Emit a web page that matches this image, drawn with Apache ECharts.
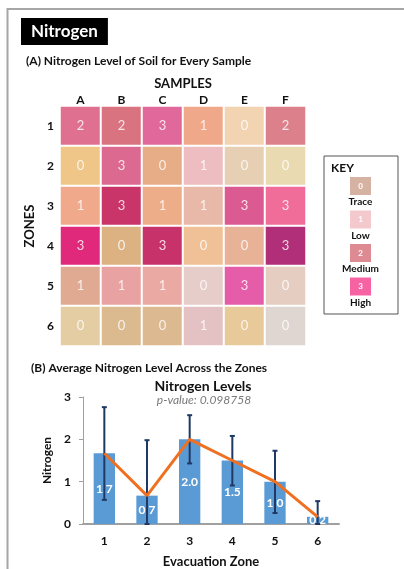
<!DOCTYPE html>
<html>
<head>
<meta charset="utf-8">
<style>
  html, body { margin: 0; padding: 0; background: #fff; }
  #chart { width: 404px; height: 569px; }
</style>
<script src="https://cdn.jsdelivr.net/npm/echarts@6/dist/echarts.min.js"></script>
</head>
<body>
<div id="chart"></div>
<script>
// Soil samples (columns) and evacuation zones (rows)
const samples = ['A', 'B', 'C', 'D', 'E', 'F'];
const zones = ['1', '2', '3', '4', '5', '6'];

// Nitrogen level per zone (row) and sample (column): 0 trace .. 3 high
const levels = [
  [2, 2, 3, 1, 0, 2],
  [0, 3, 0, 1, 0, 0],
  [1, 3, 1, 1, 3, 3],
  [3, 0, 3, 0, 0, 3],
  [1, 1, 1, 0, 3, 0],
  [0, 0, 0, 1, 0, 0]
];

// Average nitrogen per zone, with error bar ends
const zoneLabels = ['1', '2', '3', '4', '5', '6'];
const zoneAverages = [1.67, 0.67, 2.0, 1.5, 1.0, 0.17];
const errorUpper = [2.76, 1.98, 2.57, 2.08, 1.73, 0.54];
const errorLower = [0.57, 0.0, 1.43, 0.91, 0.26, 0.0];

const yTicks = { min: 0, max: 3, interval: 1 };

// Key entries
const keyLevels = ['0', '1', '2', '3'];
const keyNames = ['Trace', 'Low', 'Medium', 'High'];

// Cell fill colours (style)
const cellColors = [
  ['#e07090', '#d8737f', '#e0689a', '#f0a88a', '#f2d3b2', '#dc818b'],
  ['#efc687', '#dc6a90', '#e6ad86', '#edbdc1', '#e6cfb2', '#eadab2'],
  ['#f0a98a', '#c93469', '#eead89', '#e8b9a9', '#dc5a92', '#f06c99'],
  ['#e0297b', '#dcb282', '#c8326b', '#f0c196', '#e8b296', '#b02f78'],
  ['#e0aa92', '#e8a2a2', '#eaa9a2', '#e6cdc9', '#e55ca9', '#e5cdc1'],
  ['#e4cda2', '#dcba90', '#dcb990', '#e4c1c2', '#e8c99a', '#dfd5d1']
];
const keyColors = ['#d6b2a2', '#f4c9cd', '#de8a92', '#f662a2'];

const FONT = 'Lato';
const DARK = '#111';

const heatData = [];
levels.forEach((row, r) => {
  row.forEach((v, c) => {
    heatData.push({ value: [c, r, v], itemStyle: { color: cellColors[r][c] } });
  });
});

// Key graphic (legend box on the right)
const keyChildren = [
  { type: 'rect', shape: { x: 0, y: 0, width: 74, height: 158 },
    style: { fill: '#fff', stroke: '#555', lineWidth: 1 } },
  { type: 'text', x: 7, y: 6,
    style: { text: 'KEY', font: 'bold 12px ' + FONT, fill: DARK } }
];
keyLevels.forEach((lv, i) => {
  const top = 21 + i * 33.5;
  keyChildren.push({ type: 'rect', shape: { x: 26, y: top, width: 21, height: 18 },
    style: { fill: keyColors[i] } });
  keyChildren.push({ type: 'text', x: 36.5, y: top + 9,
    style: { text: lv, font: 'bold 8px ' + FONT, fill: '#fff', align: 'center', verticalAlign: 'middle' } });
  keyChildren.push({ type: 'text', x: 36.5, y: top + 25,
    style: { text: keyNames[i], font: 'bold 10px ' + FONT, fill: DARK, align: 'center', verticalAlign: 'middle' } });
});

const chart = echarts.init(document.getElementById('chart'), null, { renderer: 'canvas' });

chart.setOption({
  backgroundColor: '#fff',
  animation: false,
  textStyle: { fontFamily: FONT },
  title: [
    { text: 'Nitrogen', left: 21, top: 18,
      backgroundColor: '#000', padding: [5, 10, 5, 10],
      textStyle: { color: '#fff', fontSize: 17, fontWeight: 'bold', fontFamily: FONT, lineHeight: 17 } },
    { text: '(A) Nitrogen Level of Soil for Every Sample', left: 21, top: 50,
      textStyle: { color: DARK, fontSize: 12, fontWeight: 'bold', fontFamily: FONT } },
    { text: '(B) Average Nitrogen Level Across the Zones', left: 26, top: 357,
      textStyle: { color: DARK, fontSize: 12, fontWeight: 'bold', fontFamily: FONT } },
    { text: 'Nitrogen Levels', left: 198, textAlign: 'center', top: 374,
      textStyle: { color: DARK, fontSize: 14, fontWeight: 'bold', fontFamily: FONT } },
    { text: 'p-value: 0.098758', left: 199, textAlign: 'center', top: 389,
      textStyle: { color: '#7a7a7a', fontSize: 12, fontStyle: 'italic', fontWeight: 'normal', fontFamily: FONT } }
  ],
  graphic: [
    { type: 'rect', shape: { x: 7.5, y: 9, width: 420, height: 600 },
      style: { fill: null, stroke: '#a6a6a6', lineWidth: 2 }, silent: true, z: 100 },
    { type: 'group', x: 324, y: 156, children: keyChildren }
  ],
  grid: [
    { left: 60, top: 106, width: 246, height: 240 },
    { left: 83, top: 397, right: 65, bottom: 45 }
  ],
  xAxis: [
    { type: 'category', gridIndex: 0, data: samples, position: 'top',
      name: 'SAMPLES', nameLocation: 'middle', nameGap: 16,
      nameTextStyle: { fontSize: 13, fontWeight: 'bold', color: DARK, fontFamily: FONT },
      axisLine: { show: false }, axisTick: { show: false }, splitLine: { show: false },
      axisLabel: { fontSize: 12, fontWeight: 'bold', color: DARK, margin: 0, fontFamily: FONT } },
    { type: 'category', gridIndex: 1, data: zoneLabels,
      name: 'Evacuation Zone', nameLocation: 'middle', nameGap: 31,
      nameTextStyle: { fontSize: 13, fontWeight: 'bold', color: DARK, fontFamily: FONT },
      axisLine: { lineStyle: { color: '#a0a0a0', width: 2 } }, axisTick: { show: false },
      axisLabel: { fontSize: 12, fontWeight: 'bold', color: DARK, margin: 11, fontFamily: FONT } }
  ],
  yAxis: [
    { type: 'category', gridIndex: 0, data: zones, inverse: true,
      name: 'ZONES', nameLocation: 'middle', nameGap: 22,
      nameTextStyle: { fontSize: 13, fontWeight: 'bold', color: DARK, fontFamily: FONT },
      axisLine: { show: false }, axisTick: { show: false }, splitLine: { show: false },
      axisLabel: { fontSize: 12, fontWeight: 'bold', color: DARK, margin: 6, fontFamily: FONT } },
    { type: 'value', gridIndex: 1, min: yTicks.min, max: yTicks.max, interval: yTicks.interval,
      name: 'Nitrogen', nameLocation: 'middle', nameGap: 23,
      nameTextStyle: { fontSize: 12, fontWeight: 'bold', color: DARK, fontFamily: FONT },
      axisLine: { show: true, lineStyle: { color: '#a0a0a0', width: 1 } },
      axisTick: { show: true, length: 4, lineStyle: { color: '#a0a0a0' } },
      splitLine: { show: false },
      axisLabel: { fontSize: 12, fontWeight: 'bold', color: DARK, margin: 12, fontFamily: FONT } }
  ],
  series: [
    { type: 'heatmap', xAxisIndex: 0, yAxisIndex: 0, data: heatData,
      itemStyle: { borderColor: '#fff', borderWidth: 2 },
      label: { show: true, formatter: p => String(p.value[2]),
        color: 'rgba(255,255,255,0.8)', fontSize: 13, fontFamily: FONT } },
    { type: 'bar', xAxisIndex: 1, yAxisIndex: 1, data: zoneAverages, barWidth: '50%',
      itemStyle: { color: '#5b9bd5' },
      label: { show: true, position: 'inside', formatter: p => p.value.toFixed(1),
        color: '#fff', fontSize: 12, fontWeight: 'bold', fontFamily: FONT }, z: 2 },
    { type: 'custom', xAxisIndex: 1, yAxisIndex: 1, z: 3,
      data: zoneLabels.map((z, i) => [i, errorLower[i], errorUpper[i]]),
      renderItem: (params, api) => {
        const i = api.value(0);
        const lo = api.coord([i, api.value(1)]);
        const hi = api.coord([i, api.value(2)]);
        const cap = 2.5;
        const st = { stroke: '#1f3864', lineWidth: 2 };
        return { type: 'group', children: [
          { type: 'line', shape: { x1: hi[0], y1: hi[1], x2: lo[0], y2: lo[1] }, style: st },
          { type: 'line', shape: { x1: hi[0] - cap, y1: hi[1], x2: hi[0] + cap, y2: hi[1] }, style: st },
          { type: 'line', shape: { x1: lo[0] - cap, y1: lo[1], x2: lo[0] + cap, y2: lo[1] }, style: st }
        ] };
      } },
    { type: 'line', xAxisIndex: 1, yAxisIndex: 1, data: zoneAverages, z: 4,
      showSymbol: false, lineStyle: { color: '#f07022', width: 3 } }
  ]
});
</script>
</body>
</html>
